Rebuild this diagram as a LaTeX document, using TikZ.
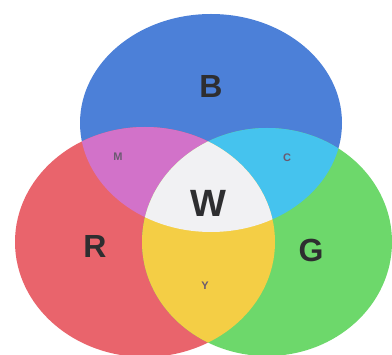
\documentclass[tikz,border=0pt]{standalone}
\usepackage{fontspec}
\setmainfont{Liberation Sans}
\usepackage{xcolor}
\usepackage{tikz}
\definecolor{rd}{HTML}{E9646C}
\definecolor{gn}{HTML}{6DD86B}
\definecolor{bl}{HTML}{4C80D8}
\definecolor{mg}{HTML}{D272C9}
\definecolor{cy}{HTML}{45C3EE}
\definecolor{yl}{HTML}{F4CE45}
\definecolor{wh}{HTML}{F1F1F3}
\definecolor{ink}{HTML}{2E2E30}
\definecolor{faint}{HTML}{6A5A70}
\tikzset{
  big/.style  ={font=\bfseries\fontsize{32}{32}\selectfont, text=ink, inner sep=0pt},
  small/.style={font=\bfseries\fontsize{11}{11}\selectfont, text=faint, inner sep=0pt},
}
\def\circB{(211,123) ellipse [x radius=131, y radius=109]}
\def\circR{(145,242) ellipse [x radius=130, y radius=115]}
\def\circG{(267,242) ellipse [x radius=125, y radius=114]}
\begin{document}
\begin{tikzpicture}[x=1pt,y=-1pt]
\useasboundingbox (0,0) rectangle (392,355);
\fill[white] (0,0) rectangle (392,355);
% primaries
\fill[bl] \circB;
\fill[rd] \circR;
\fill[gn] \circG;
% pairwise overlaps
\begin{scope}
  \clip \circR; \fill[mg] \circB;
\end{scope}
\begin{scope}
  \clip \circG; \fill[cy] \circB;
\end{scope}
\begin{scope}
  \clip \circR; \fill[yl] \circG;
\end{scope}
% centre
\begin{scope}
  \clip \circR; \clip \circG; \fill[wh] \circB;
\end{scope}
% labels
\node[big] (lblB) at (211,86) {B};
\node[big, font=\bfseries\fontsize{38}{38}\selectfont] (lblW) at (208,203) {W};
\node[big] (lblR) at (95,246) {R};
\node[big] (lblG) at (311,250) {G};
\node[small] (lblM) at (118,157) {M};
\node[small] (lblC) at (287,158) {C};
\node[small] (lblY) at (205,286) {Y};
\end{tikzpicture}
\end{document}
